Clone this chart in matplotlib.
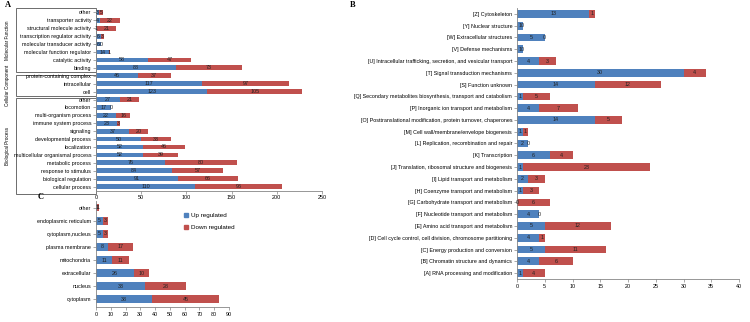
import matplotlib.pyplot as plt
from matplotlib.patches import Rectangle, Patch
from matplotlib.transforms import blended_transform_factory

plt.rcParams['font.family'] = ['Liberation Sans', 'DejaVu Sans']

UP_COLOR = '#4F81BD'
DOWN_COLOR = '#C0504D'
AXIS_COLOR = '#868686'

# Panel A: GO terms (top to bottom)
go_terms = ['other', 'transporter activity', 'structural molecule activity',
            'transcription regulator activity', 'molecular transducer activity',
            'molecular function regulator', 'catalytic activity', 'binding',
            'protein-containing complex', 'intracellular', 'cell',
            'other', 'locomotion', 'multi-organism process', 'immune system process',
            'signaling', 'developmental process', 'localization',
            'multicellular organismal process', 'metabolic process',
            'response to stimulus', 'biological regulation', 'cellular process']
go_up = [3, 4, 1, 6, 6, 14, 58, 88, 46, 117, 123,
         27, 17, 22, 23, 37, 50, 52, 52, 76, 84, 91, 110]
go_down = [5, 22, 21, 3, 0, 1, 47, 73, 37, 97, 105,
           21, 0, 16, 3, 20, 33, 46, 39, 80, 57, 66, 96]
go_groups = ['Molecular Function', 'Cellular Component', 'Biological Process']

# Panel B: COG classes (top to bottom)
cog_classes = ['[Z] Cytoskeleton', '[Y] Nuclear structure', '[W] Extracellular structures',
               '[V] Defense mechanisms',
               '[U] Intracellular trafficking, secretion, and vesicular transport',
               '[T] Signal transduction mechanisms', '[S] Function unknown',
               '[Q] Secondary metabolites biosynthesis, transport and catabolism',
               '[P] Inorganic ion transport and metabolism',
               '[O] Posttranslational modification, protein turnover, chaperones',
               '[M] Cell wall/membrane/envelope biogenesis',
               '[L] Replication, recombination and repair', '[K] Transcription',
               '[J] Translation, ribosomal structure and biogenesis',
               '[I] Lipid transport and metabolism', '[H] Coenzyme transport and metabolism',
               '[G] Carbohydrate transport and metabolism',
               '[F] Nucleotide transport and metabolism',
               '[E] Amino acid transport and metabolism',
               '[D] Cell cycle control, cell division, chromosome partitioning',
               '[C] Energy production and conversion', '[B] Chromatin structure and dynamics',
               '[A] RNA processing and modification']
cog_up = [13, 1, 5, 1, 4, 30, 14, 1, 4, 14, 1, 2, 6, 1, 2, 1, 0, 4, 5, 4, 5, 4, 1]
cog_down = [1, 0, 0, 0, 3, 4, 12, 5, 7, 5, 1, 0, 4, 23, 3, 3, 6, 0, 12, 1, 11, 6, 4]

# Panel C: subcellular localization (top to bottom)
loc_names = ['other', 'endoplasmic reticulum', 'cytoplasm,nucleus', 'plasma membrane',
             'mitochondria', 'extracellular', 'nucleus', 'cytoplasm']
loc_up = [1, 5, 5, 8, 11, 26, 33, 38]
loc_down = [1, 3, 3, 17, 11, 10, 28, 45]

FS = 3.9
W, H = 750, 322


def px_axes(fig, x0, y0, x1, y1):
    return fig.add_axes([x0 / W, 1 - y1 / H, (x1 - x0) / W, (y1 - y0) / H])


def stacked(ax, names, up, down, xmax, step, height, top_m=0.5, bot_m=0.5):
    pos = list(range(len(names)))
    ax.barh(pos, up, height=height, color=UP_COLOR, zorder=2)
    ax.barh(pos, down, left=up, height=height, color=DOWN_COLOR, zorder=2)
    for i, (u, d) in enumerate(zip(up, down)):
        ax.text(u / 2 if u else 0, i, str(u), ha='center', va='center', fontsize=FS, color='#222222', zorder=3)
        ax.text(u + d / 2 if d else u, i, str(d), ha='center', va='center', fontsize=FS, color='#222222', zorder=3)
    ax.set_yticks(pos)
    ax.set_yticklabels(names, fontsize=FS)
    ax.set_ylim(len(names) - 1 + bot_m, -top_m)
    ax.set_xlim(0, xmax)
    ax.set_xticks(range(0, xmax + 1, step))
    ax.tick_params(axis='x', labelsize=FS, length=2, width=0.5, color=AXIS_COLOR, pad=1.5)
    ax.tick_params(axis='y', length=2, width=0.5, color=AXIS_COLOR, pad=1.5)
    for s in ['top', 'right']:
        ax.spines[s].set_visible(False)
    for s in ['left', 'bottom']:
        ax.spines[s].set_color(AXIS_COLOR)
        ax.spines[s].set_linewidth(0.6)


fig = plt.figure(figsize=(7.5, 3.22), dpi=100)

# A
axA = px_axes(fig, 96, 8.5, 322, 190.5)
stacked(axA, go_terms, go_up, go_down, 250, 50, 0.6)
tr = blended_transform_factory(axA.transAxes, axA.transData)
box_left = (16 - 96) / 226
for (y0, y1), name in zip([(-0.6, 7.55), (7.9, 10.5), (10.75, 22.9)], go_groups):
    axA.add_patch(Rectangle((box_left, y0), -box_left, y1 - y0, transform=tr,
                            fill=False, edgecolor='#555555', linewidth=0.6, clip_on=False))
    axA.text((8 - 96) / 226, (y0 + y1) / 2, name, transform=tr, rotation=90,
             ha='center', va='center', fontsize=3.3)

# B
axB = px_axes(fig, 517, 8, 739, 279)
stacked(axB, cog_classes, cog_up, cog_down, 40, 5, 0.65)

# C
axC = px_axes(fig, 96, 201, 229, 306.7)
stacked(axC, loc_names, loc_up, loc_down, 90, 10, 0.6, 0.5, 0.56)

fig.legend(handles=[Patch(color=UP_COLOR), Patch(color=DOWN_COLOR)],
           labels=['Up regulated', 'Down regulated'],
           loc='upper left', bbox_to_anchor=(181 / W, 1 - 210 / H), frameon=False,
           fontsize=4.5, handlelength=0.6, handleheight=0.6, handletextpad=0.5,
           labelspacing=1.0, borderpad=0)

fig.text(5 / W, 1 - 5 / H, 'A', fontsize=6, fontweight='bold', family='Liberation Serif', va='center')
fig.text(350 / W, 1 - 5 / H, 'B', fontsize=6, fontweight='bold', family='Liberation Serif', va='center')
fig.text(38 / W, 1 - 197 / H, 'C', fontsize=6, fontweight='bold', family='Liberation Serif', va='center')

fig.savefig('out.png', dpi=100)
